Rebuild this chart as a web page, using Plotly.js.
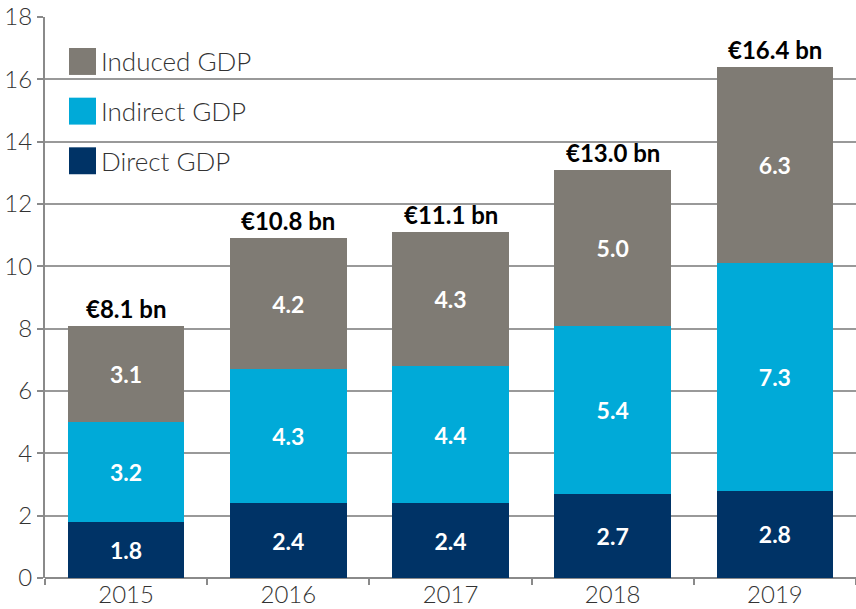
<!DOCTYPE html>
<html>
<head>
<meta charset="utf-8">
<script src="https://cdn.plot.ly/plotly-3.0.1.min.js"></script>
<style>html,body{margin:0;padding:0;background:#fff;}#chart{width:856px;height:609px;}</style>
</head>
<body>
<div id="chart"></div>
<script>
const years = ['2015', '2016', '2017', '2018', '2019'];
const directGDP = [1.8, 2.4, 2.4, 2.7, 2.8];
const indirectGDP = [3.2, 4.3, 4.4, 5.4, 7.3];
const inducedGDP = [3.1, 4.2, 4.3, 5.0, 6.3];
const totalLabels = ['€8.1 bn', '€10.8 bn', '€11.1 bn', '€13.0 bn', '€16.4 bn'];
const seriesNames = ['Direct GDP', 'Indirect GDP', 'Induced GDP'];
const seriesColors = ['#003366', '#00aad8', '#7f7b74'];
const yTicks = [0, 2, 4, 6, 8, 10, 12, 14, 16, 18];

const FONT = 'Lato, "Open Sans", sans-serif';
const seriesValues = [directGDP, indirectGDP, inducedGDP];

const traces = seriesValues.map((vals, i) => ({
  type: 'bar',
  x: years,
  y: vals,
  name: seriesNames[i],
  marker: {color: seriesColors[i], line: {width: 0}},
  text: vals.map(v => v.toFixed(1)),
  textposition: 'inside',
  insidetextanchor: 'middle',
  textangle: 0,
  textfont: {color: '#ffffff', size: 23, family: FONT, weight: 700},
  hoverinfo: 'skip',
  showlegend: false
}));

const stackTops = years.map((_, j) => seriesValues.reduce((s, arr) => s + arr[j], 0));

// category axes: annotation x uses the category index
const annotations = years.map((yr, j) => ({
  x: j, y: stackTops[j], xref: 'x', yref: 'y',
  text: totalLabels[j], showarrow: false,
  yanchor: 'bottom', yshift: 1,
  font: {family: FONT, size: 24, color: '#000', weight: 700}
}));

// custom legend (order: Induced, Indirect, Direct)
const shapes = [];
const legX0 = 0.0296, legX1 = 0.0629;
const legTop = 0.9447, legStep = 0.0885, legSize = 0.048;
for (let k = 0; k < seriesNames.length; k++) {
  const idx = seriesNames.length - 1 - k;
  const yTop = legTop - k * legStep;
  shapes.push({
    type: 'rect', xref: 'paper', yref: 'paper',
    x0: legX0, x1: legX1, y0: yTop - legSize, y1: yTop,
    fillcolor: seriesColors[idx], line: {width: 0}, layer: 'above'
  });
  annotations.push({
    xref: 'paper', yref: 'paper', x: legX1 + 0.004, y: yTop - legSize / 2,
    xanchor: 'left', yanchor: 'middle', showarrow: false,
    text: seriesNames[idx],
    font: {family: FONT, size: 26, color: '#333', weight: 300}
  });
}

const layout = {
  width: 856, height: 609,
  margin: {l: 45, r: 0, t: 17, b: 31},
  paper_bgcolor: '#fff', plot_bgcolor: '#fff',
  barmode: 'stack',
  bargap: 0.28,
  showlegend: false,
  font: {family: FONT, color: '#333'},
  xaxis: {
    type: 'category',
    range: [-0.5, years.length - 0.5],
    tickson: 'boundaries',
    ticks: 'outside', ticklen: 6, tickwidth: 2, tickcolor: '#8a8a8a',
    showgrid: false, showline: false, zeroline: false,
    tickfont: {family: FONT, size: 24, color: '#333', weight: 300},
    automargin: false
  },
  yaxis: {
    range: [0, 18],
    tickvals: yTicks,
    ticks: 'outside', ticklen: 6, tickwidth: 2, tickcolor: '#8a8a8a',
    showgrid: true, gridcolor: '#999999', gridwidth: 2,
    showline: true, linecolor: '#8a8a8a', linewidth: 2,
    zeroline: true, zerolinecolor: '#8a8a8a', zerolinewidth: 2,
    tickfont: {family: FONT, size: 24, color: '#333', weight: 300},
    automargin: false
  },
  annotations: annotations,
  shapes: shapes
};

Plotly.newPlot('chart', traces, layout, {displayModeBar: false, staticPlot: true});
</script>
</body>
</html>
